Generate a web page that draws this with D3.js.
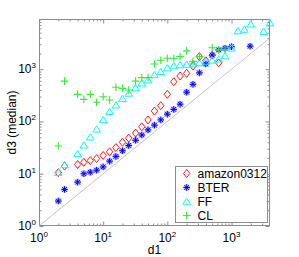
<!DOCTYPE html>
<html><head><meta charset="utf-8">
<script src="https://cdn.jsdelivr.net/npm/d3@7"></script>
<style>body{margin:0;background:#fff}svg{display:block}text{font-family:"Liberation Sans",Arial,sans-serif}</style>
</head><body><svg id="c" width="299" height="257"></svg>
<script>
// ---- data ----
const seriesNames = ["amazon0312", "BTER", "FF", "CL"];
const amazonX = [2, 2.5, 4, 5, 6.3, 7.9, 10, 12.6, 15.8, 20, 25, 32, 40, 50, 63, 79, 100, 126, 158, 200, 251, 316, 398, 501, 631];
const amazonY = [10.5, 14, 15, 16.5, 17.8, 19.5, 22.4, 26.3, 31.6, 40, 48, 60, 79, 107, 158, 200, 331, 575, 741, 832, 1150, 1740, 1450, 1860, 1320];
const bterX = [2, 2.5, 4, 5, 6.3, 7.9, 10, 12.6, 15.8, 20, 25, 32, 40, 50, 63, 79, 100, 126, 158, 200, 251, 316, 398, 501, 631, 794, 1000, 1950];
const bterY = [3.0, 5.0, 6.9, 10, 10.7, 11.7, 13.5, 17.4, 21.4, 27.5, 34.7, 43.7, 55, 69, 85, 107, 138, 170, 214, 363, 513, 851, 1260, 1860, 2340, 2510, 2690, 2750];
const ffX = [2, 2.5, 4, 5, 6.3, 7.9, 10, 12.6, 15.8, 20, 25, 32, 40, 50, 63, 79, 100, 126, 158, 200, 251, 316, 398, 501, 631, 794, 1000, 1259, 1585, 1995, 3162, 3981];
const ffY = [10.5, 14.7, 24, 35, 50, 71, 107, 154, 204, 271, 345, 437, 537, 617, 776, 891, 1050, 1150, 1200, 1230, 1290, 1320, 1410, 1480, 1550, 1780, 2510, 5370, 5750, 7240, 5250, 7590];
const clX = [2, 2.5, 4, 5, 6.3, 7.9, 10, 12.6, 15.8, 20, 25, 32, 40, 50, 63, 79, 100, 126, 158, 200, 251, 316, 501, 631, 794];
const clY = [34, 590, 330, 265, 330, 233, 297, 257, 450, 430, 400, 590, 690, 690, 1260, 1480, 1620, 1620, 1740, 2240, 1410, 1740, 2570, 2340, 2400];
const xTicks = [1, 10, 100, 1000];
const yTicks = [1, 10, 100, 1000];
const xLabel = "d1", yLabel = "d3 (median)";

// ---- layout ----
const svg = d3.select("#c");
const L = 39, R = 270, T = 19, B = 226;
const x = d3.scaleLog().domain([1, Math.pow(10, 3.6)]).range([L, R]);
const y = d3.scaleLog().domain([1, Math.pow(10, 3.96)]).range([B, T]);
const axisCol = "#8c8c8c";

function minors(dom) {
  const out = [];
  for (let e = 0; e < 5; e++) for (let m = 2; m <= 9; m++) { const v = m * Math.pow(10, e); if (v > dom[0] && v < dom[1]) out.push(v); }
  return out;
}
const xMin = minors(x.domain()), yMin = minors(y.domain());

// box
svg.append("rect").attr("x", L + 0.5).attr("y", T + 0.5).attr("width", R - L - 1).attr("height", B - T - 1)
  .attr("fill", "none").attr("stroke", axisCol).attr("stroke-width", 1);

function styleAxis(g) { g.select(".domain").remove(); g.selectAll("line").attr("stroke", axisCol); g.selectAll("text").remove(); }
svg.append("g").attr("transform", `translate(0,${B - 0.5})`).call(d3.axisBottom(x).tickValues(xTicks).tickSize(-4).tickFormat("")).call(styleAxis);
svg.append("g").attr("transform", `translate(0,${B - 0.5})`).call(d3.axisBottom(x).tickValues(xMin).tickSize(-2).tickFormat("")).call(styleAxis);
svg.append("g").attr("transform", `translate(0,${T + 0.5})`).call(d3.axisTop(x).tickValues(xTicks).tickSize(-4).tickFormat("")).call(styleAxis);
svg.append("g").attr("transform", `translate(0,${T + 0.5})`).call(d3.axisTop(x).tickValues(xMin).tickSize(-2).tickFormat("")).call(styleAxis);
svg.append("g").attr("transform", `translate(${L + 0.5},0)`).call(d3.axisLeft(y).tickValues(yTicks).tickSize(-4).tickFormat("")).call(styleAxis);
svg.append("g").attr("transform", `translate(${L + 0.5},0)`).call(d3.axisLeft(y).tickValues(yMin).tickSize(-2).tickFormat("")).call(styleAxis);
svg.append("g").attr("transform", `translate(${R - 0.5},0)`).call(d3.axisRight(y).tickValues(yTicks).tickSize(-4).tickFormat("")).call(styleAxis);
svg.append("g").attr("transform", `translate(${R - 0.5},0)`).call(d3.axisRight(y).tickValues(yMin).tickSize(-2).tickFormat("")).call(styleAxis);

// tick labels with superscripts
xTicks.forEach(v => {
  const t = svg.append("text").attr("x", x(v)).attr("y", B + 16).attr("text-anchor", "middle").attr("font-size", 12).attr("fill", "#000");
  t.append("tspan").text("10");
  t.append("tspan").attr("dy", -5).attr("font-size", 8).text(Math.round(Math.log10(v)));
});
yTicks.forEach(v => {
  const t = svg.append("text").attr("x", L - 3).attr("y", y(v) + 4).attr("text-anchor", "end").attr("font-size", 12).attr("fill", "#000");
  t.append("tspan").text("10");
  t.append("tspan").attr("dy", -5).attr("font-size", 8).text(Math.round(Math.log10(v)));
});
svg.append("text").attr("x", (L + R) / 2).attr("y", 254).attr("text-anchor", "middle").attr("font-size", 12).text(xLabel);
svg.append("text").attr("transform", `translate(16,${(T + B) / 2}) rotate(-90)`).attr("text-anchor", "middle").attr("font-size", 12).text(yLabel);

// diagonal y = x
const diagEnd = Math.min(x.domain()[1], y.domain()[1]);
svg.append("line").attr("x1", x(1)).attr("y1", y(1)).attr("x2", x(diagEnd)).attr("y2", y(diagEnd))
  .attr("stroke", "#b4b4b4").attr("stroke-width", 0.8);

// markers
const plot = svg.append("g");
function diamond(g, cx, cy) {
  g.append("path").attr("d", `M${cx},${cy - 4}L${cx + 3.2},${cy}L${cx},${cy + 4}L${cx - 3.2},${cy}Z`)
    .attr("fill", "none").attr("stroke", "#ff0000").attr("stroke-width", 0.9);
}
function star(g, cx, cy) {
  const r = 3.3, d = r * 0.72;
  const p = `M${cx - r},${cy}H${cx + r}M${cx},${cy - r}V${cy + r}M${cx - d},${cy - d}L${cx + d},${cy + d}M${cx - d},${cy + d}L${cx + d},${cy - d}`;
  g.append("path").attr("d", p).attr("stroke", "#9a9aff").attr("stroke-width", 2.4).attr("opacity", 0.6);
  g.append("path").attr("d", p).attr("stroke", "#0000ff").attr("stroke-width", 1);
}
function tri(g, cx, cy) {
  g.append("path").attr("d", `M${cx},${cy - 3.5}L${cx + 3.8},${cy + 2.8}L${cx - 3.8},${cy + 2.8}Z`)
    .attr("fill", "none").attr("stroke", "#00ffff").attr("stroke-width", 1);
}
function plus(g, cx, cy) {
  g.append("path").attr("d", `M${cx - 3.8},${cy}H${cx + 3.8}M${cx},${cy - 3.8}V${cy + 3.8}`)
    .attr("stroke", "#33ee33").attr("stroke-width", 1.1);
}
const series = [
  { xs: amazonX, ys: amazonY, m: diamond },
  { xs: bterX, ys: bterY, m: star },
  { xs: ffX, ys: ffY, m: tri },
  { xs: clX, ys: clY, m: plus }
];
series.forEach(s => {
  const g = plot.append("g");
  s.xs.forEach((xv, i) => s.m(g, x(xv), y(s.ys[i])));
});

// legend
const lg = svg.append("g");
lg.append("rect").attr("x", 175.5).attr("y", 166.5).attr("width", 92).attr("height", 56)
  .attr("fill", "#fff").attr("stroke", axisCol);
series.forEach((s, i) => {
  const cy = 173.5 + i * 14;
  s.m(lg, 186.7, cy);
  lg.append("text").attr("x", 197.5).attr("y", cy + 4.5).attr("font-size", 12).text(seriesNames[i]);
});
</script></body></html>
